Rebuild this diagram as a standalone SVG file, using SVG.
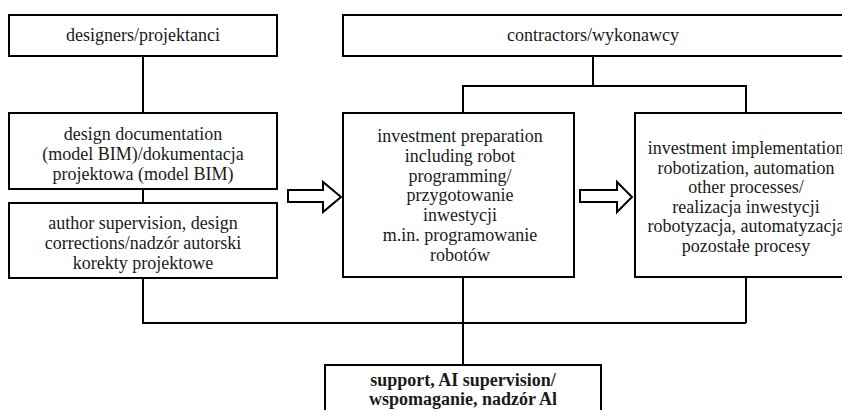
<svg xmlns="http://www.w3.org/2000/svg" width="842" height="410" viewBox="0 0 842 410">
<style>
.box{fill:#fff;stroke:#000;stroke-width:2}
.ln{fill:none;stroke:#000;stroke-width:2}
.arr{fill:#fff;stroke:#000;stroke-width:2;stroke-linejoin:miter}
.t{font-family:'Liberation Serif','Times New Roman','DejaVu Serif',serif;font-size:18px;fill:#1a1a1a;text-anchor:middle}
.b{font-weight:bold}
</style>
<rect width="842" height="410" fill="#fff"/>
<g id="connectors">
<polyline class="ln" points="143,56 143,113"/>
<polyline class="ln" points="143,189 143,203"/>
<polyline class="ln" points="143,278 143,323 746,323"/>
<polyline class="ln" points="746,277 746,323"/>
<polyline class="ln" points="463,277 463,365"/>
<polyline class="ln" points="593,56 593,86"/>
<polyline class="ln" points="463,113 463,86 746,86 746,113"/>
<polygon class="arr" points="288,190 323,190 323,182 341,197 323,212 323,202 288,202"/>
<polygon class="arr" points="580,190 617,190 617,182 632,197 617,212 617,202 580,202"/>
</g>
<g class="t">
<g id="designers">
<rect class="box" x="9" y="15" width="268" height="41"/>
<text x="143" y="41">designers/projektanci</text>
</g>
<g id="contractors">
<rect class="box" x="343" y="15" width="510" height="41"/>
<text x="593" y="41">contractors/wykonawcy</text>
</g>
<g id="design-documentation">
<rect class="box" x="9" y="113" width="268" height="76"/>
<text x="143" y="140">design documentation</text>
<text x="143" y="160">(model BIM)/dokumentacja</text>
<text x="143" y="180">projektowa (model BIM)</text>
</g>
<g id="author-supervision">
<rect class="box" x="9" y="203" width="268" height="75"/>
<text x="143" y="229">author supervision, design</text>
<text x="143" y="249">corrections/nadzór autorski</text>
<text x="143" y="269">korekty projektowe</text>
</g>
<g id="investment-preparation">
<rect class="box" x="343" y="113" width="231" height="164"/>
<text x="460" y="142">investment preparation</text>
<text x="460" y="161.8">including robot</text>
<text x="460" y="181.6">programming/</text>
<text x="460" y="201.4">przygotowanie</text>
<text x="460" y="221.2">inwestycji</text>
<text x="460" y="241">m.in. programowanie</text>
<text x="460" y="260.8">robotów</text>
</g>
<g id="investment-implementation">
<rect class="box" x="635" y="113" width="222" height="164"/>
<text x="746" y="154">investment implementation</text>
<text x="746" y="173.5">robotization, automation</text>
<text x="746" y="193">other processes/</text>
<text x="746" y="212.5">realizacja inwestycji</text>
<text x="746" y="232">robotyzacja, automatyzacja</text>
<text x="746" y="251.5">pozostałe procesy</text>
</g>
<g id="ai-support">
<rect class="box" x="325" y="365" width="276" height="60"/>
<text class="b" x="463" y="386">support, AI supervision/</text>
<text class="b" x="463" y="405">wspomaganie, nadzór Al</text>
</g>
</g>
</svg>
